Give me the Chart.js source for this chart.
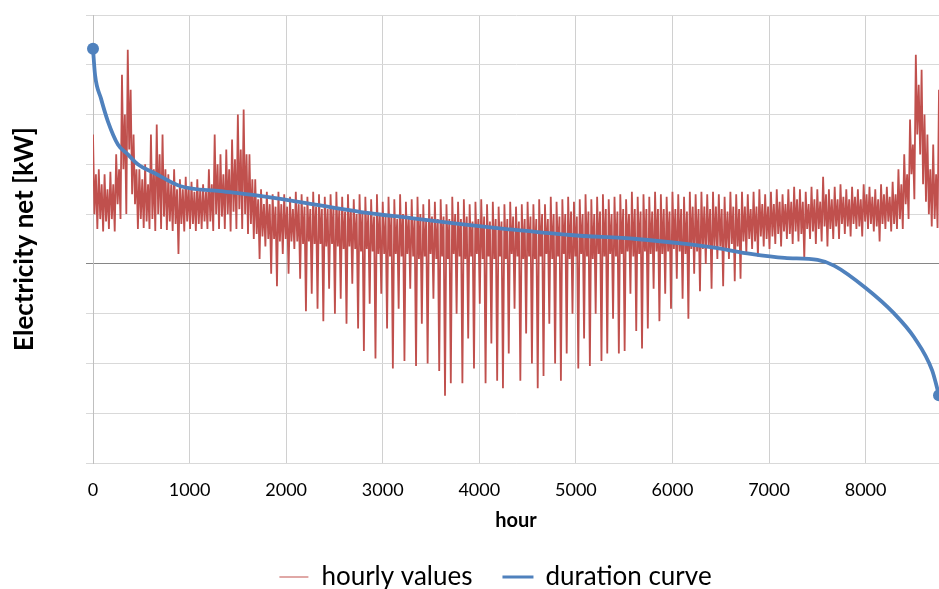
<!DOCTYPE html>
<html lang="en">
<head>
    <meta charset="UTF-8">
    <title>Electricity net – hourly values and duration curve</title>
    <script src="https://cdn.jsdelivr.net/npm/chart.js@4.4.1/dist/chart.umd.min.js"></script>
    <style>
        html, body { margin: 0; padding: 0; background: #fff; overflow: hidden; }
        #wrap { width: 945px; height: 610px; }
    </style>
</head>
<body>
<div id="wrap"><canvas id="chart" width="945" height="610"></canvas></div>
<script>
    // hourly values, read off the picture as an envelope per 60 h:
    // spike top, lower edge of the dense band, upper edge of the dense band, deepest dip
    const hourStep = 60;
    const hourlyHighs = [
        2.6, 1.9, 1.8, 1.85, 2.2, 3.8, 4.3, 2.6, 1.9, 2.0,
        2.6, 2.8, 2.6, 1.8, 1.9, 1.7, 1.75, 1.65, 1.7, 1.6,
        1.9, 2.6, 2.2, 2.3, 2.5, 3.0, 3.1, 2.2, 1.7, 1.5,
        1.45, 1.4, 1.45, 1.4, 1.35, 1.45, 1.4, 1.35, 1.45, 1.4,
        1.35, 1.4, 1.45, 1.35, 1.4, 1.3, 1.4, 1.35, 1.3, 1.4,
        1.25, 1.35, 1.3, 1.4, 1.25, 1.3, 1.35, 1.2, 1.3, 1.25,
        1.3, 1.2, 1.35, 1.25, 1.3, 1.2, 1.25, 1.3, 1.2, 1.25,
        1.15, 1.2, 1.25, 1.15, 1.2, 1.25, 1.2, 1.3, 1.2, 1.35,
        1.25, 1.3, 1.35, 1.25, 1.3, 1.4, 1.3, 1.35, 1.4, 1.3,
        1.35, 1.4, 1.3, 1.45, 1.35, 1.4, 1.35, 1.45, 1.4, 1.35,
        1.45, 1.4, 1.35, 1.45, 1.4, 1.45, 1.4, 1.45, 1.4, 1.35,
        1.45, 1.4, 1.45, 1.4, 1.45, 1.5, 1.4, 1.45, 1.5, 1.4,
        1.5, 1.55, 1.5, 1.45, 1.55, 1.5, 1.75, 1.5, 1.55, 1.6,
        1.5, 1.55, 1.5, 1.6, 1.55, 1.5, 1.6, 1.55, 1.65, 1.9,
        2.2, 2.9, 4.2, 3.9, 2.6, 2.4, 3.5
    ];
    const hourlyCoreLows = [
        1.0, 0.9, 0.85, 0.9, 1.2, 1.9, 2.3, 1.2, 0.9, 0.85,
        0.9, 1.0, 0.95, 0.85, 0.8, 0.8, 0.85, 0.8, 0.8, 0.85,
        0.85, 1.0, 0.95, 1.0, 1.05, 1.1, 1.0, 0.8, 0.6, 0.55,
        0.5, 0.5, 0.45, 0.5, 0.45, 0.45, 0.4, 0.45, 0.4, 0.4,
        0.35, 0.4, 0.35, 0.3, 0.35, 0.3, 0.25, 0.3, 0.25, 0.2,
        0.2, 0.15, 0.2, 0.15, 0.2, 0.15, 0.1, 0.15, 0.2, 0.1,
        0.15, 0.1, 0.2, 0.15, 0.1, 0.15, 0.2, 0.1, 0.15, 0.1,
        0.15, 0.1, 0.2, 0.15, 0.1, 0.15, 0.1, 0.15, 0.2, 0.1,
        0.15, 0.2, 0.1, 0.15, 0.2, 0.15, 0.1, 0.2, 0.15, 0.2,
        0.15, 0.2, 0.25, 0.15, 0.2, 0.25, 0.2, 0.25, 0.2, 0.25,
        0.3, 0.25, 0.2, 0.3, 0.25, 0.3, 0.35, 0.3, 0.35, 0.3,
        0.4, 0.35, 0.45, 0.5, 0.45, 0.55, 0.5, 0.55, 0.6, 0.65,
        0.6, 0.65, 0.6, 0.7, 0.65, 0.7, 0.75, 0.7, 0.75, 0.8,
        0.75, 0.8, 0.75, 0.85, 0.8, 0.75, 0.8, 0.85, 0.8, 0.9,
        1.2, 1.8, 2.6, 1.6, 1.0, 0.9
    ];
    const hourlyCoreTops = [
        1.8, 1.6, 1.5, 1.6, 1.9, 3.0, 3.5, 1.9, 1.7, 1.6,
        1.9, 2.2, 1.9, 1.6, 1.5, 1.5, 1.55, 1.45, 1.5, 1.45,
        1.6, 2.0, 1.8, 1.9, 2.1, 2.3, 2.2, 1.7, 1.3, 1.2,
        1.2, 1.15, 1.2, 1.15, 1.1, 1.2, 1.15, 1.1, 1.15, 1.1,
        1.1, 1.15, 1.1, 1.05, 1.1, 1.0, 1.05, 1.0, 0.95, 1.0,
        0.95, 1.0, 0.9, 1.0, 0.95, 0.9, 1.0, 0.9, 0.95, 0.9,
        0.95, 0.9, 1.0, 0.9, 0.95, 0.85, 0.9, 0.95, 0.85, 0.9,
        0.85, 0.9, 0.95, 0.85, 0.9, 0.95, 0.9, 1.0, 0.9, 1.0,
        0.95, 1.0, 1.05, 0.95, 1.0, 1.05, 1.0, 1.05, 1.1, 1.0,
        1.05, 1.1, 1.0, 1.1, 1.05, 1.1, 1.05, 1.1, 1.1, 1.05,
        1.1, 1.1, 1.05, 1.15, 1.1, 1.15, 1.1, 1.15, 1.1, 1.05,
        1.15, 1.1, 1.15, 1.1, 1.15, 1.2, 1.15, 1.2, 1.25, 1.2,
        1.25, 1.3, 1.25, 1.2, 1.3, 1.25, 1.4, 1.3, 1.3, 1.35,
        1.3, 1.35, 1.3, 1.4, 1.35, 1.3, 1.4, 1.35, 1.4, 1.6,
        1.8, 2.4, 3.6, 3.0, 1.9, 1.8
    ];
    const hourlyDips = [
        0.7, 0.65, 0.7, 0.65, 0.9, 1.0, 1.4, 0.7, 0.72, 0.7,
        0.66, 0.7, 0.68, 0.66, 0.2, 0.65, 0.7, 0.66, 0.7, 0.7,
        0.66, 0.7, 0.7, 0.65, 0.7, 0.7, 0.6, 0.5, 0.1, 0.35,
        -0.2, -0.45, 0.2, -0.2, 0.3, -0.3, -0.95, -0.6, -0.9, -1.15,
        -0.5, -1.0, -0.7, -1.2, -0.4, -1.3, -1.75, -0.8, -1.9, -0.6,
        -1.3, -2.1, -0.9, -1.95, -0.5, -2.05, -1.2, -2.0, -0.7, -2.15,
        -2.65, -2.4, -1.0, -2.4, -1.5, -2.1, -0.8, -2.4, -1.6, -2.35,
        -2.5, -1.8, -0.9, -2.35, -1.4, -2.0, -2.5, -2.25, -1.2, -2.0,
        -2.35, -1.8, -1.0, -2.1, -1.5, -2.05, -1.0, -1.95, -1.8, -1.1,
        -1.8, -1.75, -0.6, -1.35, -1.7, -1.3, -0.5, -1.15, -0.6, -0.9,
        -0.3, -0.7, -1.1, -0.2, -0.55, 0.0, -0.5, 0.1, -0.45, 0.1,
        -0.35, -0.3, 0.2, 0.3, 0.15, 0.35, 0.3, 0.4, 0.35, 0.5,
        0.4, 0.45, 0.1, 0.5, 0.4, 0.45, 0.35, 0.5, 0.5, 0.6,
        0.55, 0.7, 0.55, 0.7, 0.65, 0.45, 0.7, 0.65, 0.7, 0.7,
        0.9, 1.3, 2.2, 1.25, 0.75, 0.72
    ];

    // duration curve (sorted values)
    const durationHours = [0, 21, 83, 155, 258, 361, 464, 640, 908, 1321, 1672, 2146, 2776, 3292, 3808,
        4283, 4943, 5624, 6140, 6450, 6811, 7162, 7503, 7678, 7998, 8297, 8504, 8689, 8760];
    const durationValues = [4.32, 3.8, 3.32, 2.86, 2.4, 2.2, 2.0, 1.82, 1.56, 1.46, 1.38, 1.24, 1.04, 0.92, 0.8,
        0.7, 0.58, 0.5, 0.4, 0.32, 0.2, 0.12, 0.08, -0.04, -0.48, -1.0, -1.48, -2.14, -2.64];

    const xTickValues = [0, 1000, 2000, 3000, 4000, 5000, 6000, 7000, 8000];

    const red = '#C0504D';
    const blue = '#4F81BD';

    const hourlyPoints = [];
    hourlyHighs.forEach((v, i) => {
        const h = i * hourStep;
        hourlyPoints.push({ x: h, y: v });
        if (i < hourlyDips.length) {
            hourlyPoints.push({ x: h + 15, y: hourlyCoreLows[i] });
            hourlyPoints.push({ x: h + 30, y: hourlyCoreTops[i] });
            hourlyPoints.push({ x: h + 45, y: hourlyDips[i] });
        }
    });
    const durationPoints = durationHours.map((h, i) => ({ x: h, y: durationValues[i] }));
    const endRadius = durationPoints.map((p, i) => (i === 0 || i === durationPoints.length - 1) ? 6 : 0);

    // Excel centres its legend a bit right of the canvas middle
    const legendShift = {
        id: 'legendShift',
        afterLayout(chart) {
            chart.legend.left += 24;
            chart.legend.right += 24;
        }
    };

    new Chart(document.getElementById('chart'), {
        type: 'line',
        data: {
            datasets: [{
                label: 'hourly values',
                data: hourlyPoints,
                borderColor: red,
                backgroundColor: red,
                borderWidth: 1.8,
                pointRadius: 0,
                tension: 0,
                order: 1
            }, {
                label: 'duration curve',
                data: durationPoints,
                borderColor: blue,
                backgroundColor: blue,
                borderWidth: 3.8,
                pointRadius: endRadius,
                pointBackgroundColor: blue,
                pointBorderWidth: 0,
                cubicInterpolationMode: 'monotone',
                clip: false,
                order: 0
            }]
        },
        options: {
            responsive: false,
            animation: false,
            events: [],
            layout: { padding: { top: 15, right: 2, left: 0, bottom: 10 } },
            scales: {
                x: {
                    type: 'linear',
                    min: 0,
                    max: 8760,
                    afterBuildTicks: s => { s.ticks = xTickValues.map(v => ({ value: v })); },
                    ticks: {
                        font: { family: 'Lato', size: 18 }, color: '#000', padding: 16,
                        maxRotation: 0, autoSkip: false, callback: v => String(v)
                    },
                    grid: { color: '#d0d0d0', drawTicks: false },
                    border: { color: '#d9d9d9' },
                    title: { display: true, text: 'hour', color: '#000', font: { family: 'Lato', size: 20, weight: 'bold' }, padding: { top: 0, bottom: 0 } },
                    afterFit: s => { s.height = 70; }
                },
                y: {
                    min: -4,
                    max: 5,
                    ticks: { display: false, stepSize: 1 },
                    grid: { color: c => c.tick.value === 0 ? '#868686' : '#d9d9d9', tickLength: 7 },
                    border: { color: '#bfbfbf' },
                    title: { display: true, text: 'Electricity net [kW]', color: '#000', font: { family: 'Lato', size: 26, weight: 'bold' }, padding: { top: 9 } },
                    afterFit: s => { s.width = 93; }
                }
            },
            plugins: {
                tooltip: { enabled: false },
                legend: {
                    position: 'bottom',
                    labels: {
                        font: { family: 'Lato', size: 26 },
                        color: '#000',
                        boxWidth: 29,
                        boxHeight: 1,
                        padding: 31,
                        generateLabels: chart => chart.data.datasets.map((ds, i) => ({
                            text: ds.label,
                            fillStyle: ds.borderColor,
                            strokeStyle: ds.borderColor,
                            lineWidth: i === 1 ? 2 : 0,
                            datasetIndex: i,
                            hidden: false
                        }))
                    }
                }
            }
        },
        plugins: [legendShift]
    });
</script>
</body>
</html>
